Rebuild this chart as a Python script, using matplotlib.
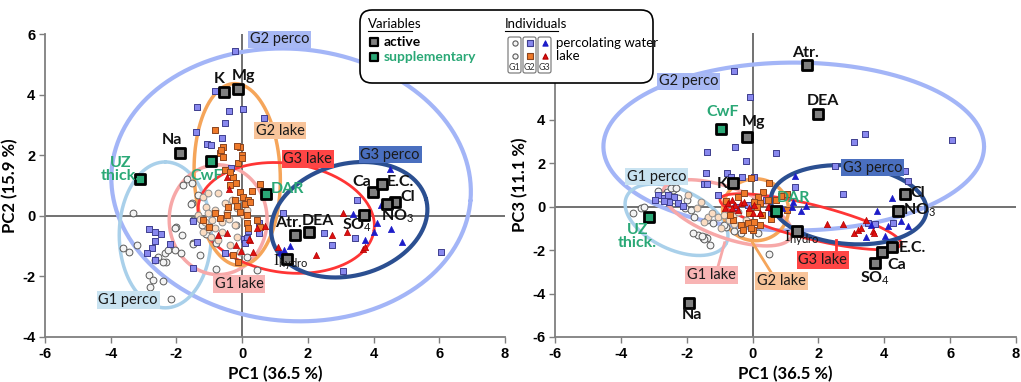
import numpy as np
import matplotlib
matplotlib.use('Agg')
import matplotlib.pyplot as plt
from matplotlib.patches import FancyBboxPatch

plt.rcParams['font.family'] = ['Lato', 'DejaVu Sans']
plt.rcParams['axes.unicode_minus'] = False
plt.rcParams['mathtext.fontset'] = 'custom'
plt.rcParams['mathtext.rm'] = 'Liberation Serif'
plt.rcParams['mathtext.sf'] = 'Lato'

# ---- variables (active / supplementary) ----
var_names = ['K', 'Mg', 'Na', 'Ca', 'E.C.', 'Cl', 'NO3', 'SO4', 'Atr.', 'DEA', 'Ihydro']
var_pc1 = [-0.55, -0.14, -1.90, 3.97, 4.25, 4.66, 4.42, 3.72, 1.61, 2.04, 1.36]
var_pc2 = [4.10, 4.20, 2.08, 0.78, 1.05, 0.44, 0.39, 0.01, -0.63, -0.53, -1.43]
var_pc1b = [-0.59, -0.18, -1.94, 3.92, 4.22, 4.64, 4.43, 3.72, 1.64, 2.00, 1.34]
var_pc3 = [1.09, 3.20, -4.42, -2.09, -1.85, 0.60, -0.19, -2.58, 6.52, 4.28, -1.11]

sup_names = ['UZ thick.', 'CwF', 'DAR']
sup_pc1 = [-3.12, -0.95, 0.73]
sup_pc2 = [1.21, 1.82, 0.72]
sup_pc1b = [-3.15, -0.97, 0.70]
sup_pc3 = [-0.48, 3.60, -0.22]

# ---- individuals, PC1 vs PC2 ----
g1p_pc1 = [-3.32, -3.62, -3.43, -3.19, -2.85, -2.72, -2.80, -2.42, -2.16, -2.55, -2.65, -2.34, -2.31,
           -2.40, -2.25, -2.04, -1.86, -2.00, -1.83, -1.52, -1.49, -1.22, -0.79, -0.79, 0.45, -0.18,
           -1.80, -1.67, -1.52, -1.55, -1.33, -2.04, -1.49, -1.49, 0.15, -1.28, -1.10]
g1p_pc2 = [0.10, -1.07, -1.20, -0.96, -1.95, -2.11, -2.35, -2.15, -2.74, -1.35, -1.45, -1.22, -1.52,
           -1.52, -1.12, -1.12, -1.22, -0.37, -0.63, 0.42, -0.90, -0.30, -1.75, -0.89, -1.79, -0.30,
           1.02, 1.22, 1.08, 0.40, 0.69, -0.40, -0.13, -0.93, -1.36, -1.29, -0.60]
g1l_pc1 = [-1.19, -1.03, -0.73, -0.52, -0.30, -0.15, 0.03, -1.10, -1.34, -1.03, -0.82, -0.46, -0.15,
           -1.28, -1.13, -0.91, -1.03, -0.82, -0.61, -0.21, 0.03, 0.15, -0.73, -0.36, -0.15, -0.06,
           -0.61, -0.40, -0.95, -1.20]
g1l_pc2 = [0.63, 0.76, 0.76, 0.43, 0.53, 0.43, 0.60, 0.30, 0.03, 0.10, 0.20, 0.13, 0.26,
           -0.10, -0.20, -0.13, -0.43, -0.40, -0.53, -0.30, 0.03, 0.20, -0.79, -0.96, -0.69, -1.19,
           -0.20, -0.10, -0.70, -0.55]
g2p_pc1 = [-0.21, -0.82, 0.04, -1.36, -0.39, -0.52, -1.40, -0.62, -1.07, -0.95, -0.33, 0.67, 3.50,
           1.25, 2.50, 2.74, 3.44, 3.07, 6.06, 0.52, 0.50, -2.83, -2.65, -2.46, -2.65, -2.74, -2.89,
           -2.65, -2.19, -1.37, -1.49, -0.52, 0.06, 0.18, -1.49, 0.15, 0.10]
g2p_pc2 = [5.45, 4.11, 3.53, 3.60, 3.45, 3.07, 2.78, 2.57, 2.38, 2.35, 1.58, 3.24, 0.53,
           0.10, -0.57, -0.96, -0.72, -1.82, -1.20, -0.57, -0.24, -0.43, -0.53, -0.60, -0.83, -1.06, -1.22,
           -1.45, -0.93, -0.86, -1.73, -1.22, -0.76, -0.50, -0.17, -0.73, -0.90]
g2l_pc1 = [-0.58, -0.67, -0.06, 0.00, -0.12, -0.52, -0.27, -0.18, -0.36, -0.06, 0.03, 0.18, -0.21,
           -0.43, -0.15, 0.09, 0.24, -0.06, -0.46, -0.67, -0.82, 0.15, 0.18, 0.15, 0.45, 0.55, -1.00,
           -1.19, -0.12, -0.27, -0.82, -0.15, 0.55, -0.36, -0.64, 0.30, -0.58, 0.00]
g2l_pc2 = [2.28, 2.07, 2.28, 2.02, 1.75, 1.52, 1.29, 1.09, 1.02, 0.79, 0.63, 0.53, 0.53,
           0.30, 0.33, 0.40, 0.46, 0.13, 0.03, -0.07, 0.10, -0.23, -0.40, 0.03, -0.13, -0.36, -0.36,
           -0.13, -1.52, -1.29, 2.84, 2.31, 1.06, 1.45, 2.18, 0.83, 1.95, 1.92]
g3p_pc1 = [4.50, 4.23, 3.38, 4.10, 4.00, 4.54, 4.87, 3.75, 1.46, 1.28, 1.15]
g3p_pc2 = [1.55, 0.36, 0.07, -0.25, -0.52, -0.43, -0.85, -0.80, -1.01, -1.12, -1.18]
g3l_pc1 = [3.08, 2.74, 3.20, 2.25, 1.10, 3.68, 3.74, -0.46, -0.39, -0.73, -0.46, -0.18, -0.03,
           0.24, 0.34, 0.45, 0.70, 0.21]
g3l_pc2 = [0.10, -0.63, -0.52, -1.31, -1.02, -1.10, -1.02, 1.29, 0.89, -0.63, -0.56, -0.96, -1.16,
           -0.79, -1.19, -0.40, -0.35, -0.76]

# ---- individuals, PC1 vs PC3 ----
g1p_pc1b = [-2.86, -2.61, -2.43, -2.70, -2.80, -2.55, -2.40, -2.25, -3.62, -3.40, -3.30, -2.49,
            -2.34, -2.58, -1.98, -2.04, -1.88, -1.79, -1.37, -1.19, -0.82, -1.67, -1.52, -1.43,
            -1.28, -1.82, -1.37, -1.46, -1.55, 0.49, 0.18, -0.88, -0.36, -0.55]
g1p_pc3 = [0.74, 0.69, 0.78, 0.55, 0.42, 0.46, 0.32, 0.42, -0.28, -0.05, 0.00, 0.88,
           0.85, 0.32, 0.32, -0.05, -0.14, -0.46, -0.60, -0.74, -0.92, -1.29, -1.43, -1.38,
           -1.75, -1.20, -1.43, -1.48, -1.35, -2.17, -1.20, -0.83, -1.20, -1.10]
g1l_pc1b = [-1.95, -1.58, -1.34, -1.04, -0.73, -0.97, -0.55, -0.30, -1.70, -1.22, -0.88, -0.60,
            -1.46, -0.20, -0.45]
g1l_pc3 = [0.55, 0.23, -0.46, -0.46, -0.60, -1.00, -0.78, -0.92, -0.05, -0.30, -0.37, -0.45,
           -0.69, -0.60, -0.25]
g2p_pc1b = [-0.55, -0.09, -1.37, -0.52, -0.21, -1.40, -0.79, -1.49, -1.37, -0.64, -0.33, -1.06,
            0.03, -2.88, -2.70, -2.58, -2.40, -2.55, -2.70, 0.70, 3.07, 3.40, 6.05, 2.49, 4.62,
            4.71, 1.28, 2.74, 3.50, 3.71, 4.26, -2.25, -2.10, -0.15, 0.40, -0.50, -2.95, 0.55]
g2p_pc3 = [6.23, 5.03, 2.54, 2.77, 2.12, 1.57, 1.57, 1.06, 1.06, 1.38, 1.38, 0.55,
           1.38, 0.55, 0.42, 0.55, 0.46, 0.23, 0.28, 2.49, 3.00, 3.37, 3.09, 1.89, 1.66,
           1.20, 0.92, 0.60, -0.74, -0.78, -0.74, 0.15, 0.05, 0.10, 0.30, 0.00, 0.30, -0.35]
g2l_pc1b = [-0.06, 0.49, 0.33, 0.15, 0.46, -0.43, -0.27, 0.03, 0.24, -0.58, -0.36, -0.15, 0.03,
            0.24, -0.30, 0.00, 1.06, -0.06, 1.06, 0.12, -0.12, 0.70, 0.85, -0.80, -0.70, 0.55, 0.30]
g2l_pc3 = [1.34, 1.10, 0.69, 0.46, 0.32, 0.46, 0.64, 0.23, 0.18, -0.60, -0.83, -0.74, -0.69,
           -0.83, -1.06, -1.06, -0.14, -0.97, 0.60, 0.00, -0.30, 0.30, 0.50, 0.25, -0.40, -0.55, -0.40]
g3p_pc1b = [1.28, 4.22, 3.77, 1.19, 1.46, 1.62, 4.50, 4.71, 4.10, 4.01, 3.59, 3.43, 1.22, 0.90]
g3p_pc3 = [1.43, 0.42, -0.18, 0.00, -0.18, 0.05, -0.65, -0.88, -0.88, -1.34, -0.83, -1.38, 0.20, -0.05]
g3l_pc1b = [2.25, 2.74, 3.07, 3.19, 3.28, 3.65, 3.68, 0.49, 0.24, -0.76, -0.61, -0.52, -0.36,
            -0.43, -0.12, 0.00, 0.24, 0.46, -0.27, -0.61, 0.03, -0.85, 3.45]
g3l_pc3 = [-0.78, -0.78, -1.20, -1.06, -0.97, -1.10, -1.20, 0.00, -0.28, 0.18, 0.32, 0.09, 0.18,
           -0.14, -0.05, -0.28, -0.28, 0.00, 0.23, -0.05, 0.09, -0.05, -0.60]

# ---- group ellipses: centre x, centre y, semi-axis a, semi-axis b (x units), angle ----
groups = ['G2 perco', 'G1 perco', 'G1 lake', 'G2 lake', 'G3 lake', 'G3 perco']
ell_pc2 = [(1.49, 1.02, 5.48, 4.14, -5), (-2.34, -0.63, 2.22, 1.40, 90), (-0.73, -0.13, 1.67, 1.49, 90),
           (-0.15, 1.36, 2.77, 1.31, 92), (1.34, -0.07, 2.70, 1.66, -8), (3.26, -0.13, 2.42, 1.70, 15)]
ell_pc3 = [(1.25, 2.77, 5.78, 2.55, 0), (-2.31, -0.60, 1.67, 0.91, -25), (-0.76, -0.28, 2.07, 0.76, -20),
           (0.09, -0.14, 1.00, 0.94, 0), (1.76, -0.69, 2.83, 0.52, -14), (2.92, 0.09, 2.37, 1.19, -5)]

# ---- styles / layout ----
ell_col = ['#a3b5f7', '#a9d0ea', '#f7a8a8', '#f5a55a', '#ff3535', '#2b4f91']
ell_lw = [3.0, 2.5, 2.5, 2.5, 2.0, 3.0]
box_col = ['#a7b8f4', '#c9e3f1', '#f8b4b4', '#f8c49a', '#ff4545', '#4a6fbf']
grp_lab_pc2 = [(1.13, 5.82), (-3.47, -2.78), (-0.09, -2.25), (1.16, 2.81), (2.0, 1.88), (4.5, 2.02)]
grp_lab_pc3 = [(-1.95, 5.77), (-2.92, 1.38), (-1.25, -3.14), (0.88, -3.41), (2.13, -2.45), (3.65, 1.80)]
leaders_pc3 = {'G1 lake': [(-1.06, -2.81), (-0.85, -1.66)],
               'G2 lake': [(0.61, -3.14), (0.0, -1.66)],
               'G3 lake': [(2.52, -2.12), (2.52, -1.52)]}

pretty = {'NO3': r'NO$_{\mathsf{3}}$', 'SO4': r'SO$_{\mathsf{4}}$',
          'Ihydro': r'$\mathrm{I}_{\mathsf{hydro}}$', 'UZ thick.': 'UZ\nthick.'}
var_lab_pc2 = [(-0.70, 4.50), (0.03, 4.63), (-2.13, 2.51), (3.65, 1.12), (4.81, 1.12), (5.05, 0.62),
               (4.72, 0.00), (3.50, -0.30), (1.40, -0.23), (2.30, -0.17), (1.49, -1.52)]
var_lab_pc3 = [(-0.91, 1.06), (0.03, 3.88), (-1.85, -4.98), (4.38, -2.68), (4.86, -1.89), (5.02, 0.65),
               (5.08, -0.14), (3.71, -3.28), (1.61, 7.10), (2.13, 4.89), (1.49, -1.43)]
sup_lab_pc2 = [(-3.71, 1.52), (-1.07, 1.32), (1.37, 0.89)]
sup_lab_pc3 = [(-3.50, -1.38), (-0.91, 4.34), (1.25, 0.42)]

green = '#2aa876'
ind_style = {
    'g1p': dict(marker='o', s=24, fc='#f4f4f4', ec='#5a5a5a', lw=0.7),
    'g1l': dict(marker='o', s=24, fc='#fbdcc2', ec='#8c8c8c', lw=0.7),
    'g2p': dict(marker='s', s=17, fc='#8888ee', ec='#3e3e8e', lw=0.7),
    'g2l': dict(marker='s', s=17, fc='#ef7a2a', ec='#8a4520', lw=0.7),
    'g3p': dict(marker='^', s=20, fc='#1c1cc8', ec='#1c1cc8', lw=0.5),
    'g3l': dict(marker='^', s=20, fc='#e01010', ec='#b00000', lw=0.5),
}

W, H = 1021, 382
fig = plt.figure(figsize=(W / 100, H / 100), dpi=100)
axL = fig.add_axes([45 / W, 45 / H, 460 / W, 303 / H])
axR = fig.add_axes([555 / W, 45 / H, 461 / W, 304 / H])


def draw_ellipse(ax, e, r, color, lw):
    cx, cy, a, b, ang = e
    t = np.linspace(0, 2 * np.pi, 300)
    th = np.deg2rad(ang)
    u, v = a * np.cos(t), b * np.sin(t)
    dx = u * np.cos(th) - v * np.sin(th)
    dy = u * np.sin(th) + v * np.cos(th)
    ax.plot(cx + dx, cy + dy * r, color=color, lw=lw, zorder=2, solid_capstyle='round')


def setup(ax, ylim, ylab, hide_top):
    ax.set_xlim(-6, 8)
    ax.set_ylim(*ylim)
    ax.set_xticks(range(-6, 9, 2))
    yt = list(range(ylim[0], ylim[1] + 1, 2))
    ax.set_yticks(yt, [('' if (hide_top and v == yt[-1]) else str(v)) for v in yt])
    for s in ['top', 'right']:
        ax.spines[s].set_visible(False)
    for s in ['left', 'bottom']:
        ax.spines[s].set_color('#7f7f7f')
        ax.spines[s].set_linewidth(1.3)
    ax.tick_params(direction='out', length=4, width=1, color='#7f7f7f', labelsize=10.5,
                   labelfontfamily='Liberation Sans', pad=3)
    for lbl in ax.get_xticklabels() + ax.get_yticklabels():
        lbl.set_fontweight('bold')
    ax.axhline(0, color='#595959', lw=1.2, zorder=1)
    ax.axvline(0, color='#595959', lw=1.2, zorder=1)
    ax.set_xlabel('PC1 (36.5 %)', fontsize=12, fontweight='bold', labelpad=4)
    ax.set_ylabel(ylab, fontsize=12, fontweight='bold', labelpad=3)


def panel(ax, ylim, ylab, ells, grp_lab, ind, vx, vy, vlab, sx, sy, slab, leaders=None, hide_top=False):
    setup(ax, ylim, ylab, hide_top)
    fig.canvas.draw()
    bb = ax.get_window_extent()
    r = (bb.width / 14) / (bb.height / (ylim[1] - ylim[0]))
    for e, c, lw in zip(ells, ell_col, ell_lw):
        draw_ellipse(ax, e, r, c, lw)
    if leaders:
        for g, pts in leaders.items():
            i = groups.index(g)
            ax.plot([pts[0][0], pts[1][0]], [pts[0][1], pts[1][1]], color=ell_col[i], lw=2, zorder=2)
    for key, (xs, ys) in ind.items():
        st = ind_style[key]
        ax.scatter(xs, ys, marker=st['marker'], s=st['s'], facecolor=st['fc'], edgecolor=st['ec'],
                   linewidths=st['lw'], zorder=3)
    for g, (lx, ly), bc in zip(groups, grp_lab, box_col):
        ax.text(lx, ly, g, fontsize=10.5, ha='center', va='center', color='#1a1a1a', zorder=4,
                bbox=dict(boxstyle='square,pad=0.12', fc=bc, ec='none'))
    ax.scatter(vx, vy, marker='s', s=42, facecolor='#808080', edgecolor='black', linewidths=2, zorder=5)
    ax.scatter(sx, sy, marker='s', s=42, facecolor=green, edgecolor='black', linewidths=2, zorder=5)
    for n, (lx, ly) in zip(var_names, vlab):
        ax.text(lx, ly, pretty.get(n, n), fontsize=11.5, ha='center', va='center', color='#111111',
                fontweight='bold', zorder=6)
    for n, (lx, ly) in zip(sup_names, slab):
        ax.text(lx, ly, pretty.get(n, n), fontsize=11.5, ha='center', va='center', color=green,
                fontweight='bold', linespacing=0.95, zorder=6)


panel(axL, (-4, 6), 'PC2 (15.9 %)', ell_pc2, grp_lab_pc2,
      {'g1p': (g1p_pc1, g1p_pc2), 'g1l': (g1l_pc1, g1l_pc2), 'g2p': (g2p_pc1, g2p_pc2),
       'g2l': (g2l_pc1, g2l_pc2), 'g3p': (g3p_pc1, g3p_pc2), 'g3l': (g3l_pc1, g3l_pc2)},
      var_pc1, var_pc2, var_lab_pc2, sup_pc1, sup_pc2, sup_lab_pc2)
panel(axR, (-6, 8), 'PC3 (11.1 %)', ell_pc3, grp_lab_pc3,
      {'g1p': (g1p_pc1b, g1p_pc3), 'g1l': (g1l_pc1b, g1l_pc3), 'g2p': (g2p_pc1b, g2p_pc3),
       'g2l': (g2l_pc1b, g2l_pc3), 'g3p': (g3p_pc1b, g3p_pc3), 'g3l': (g3l_pc1b, g3l_pc3)},
      var_pc1b, var_pc3, var_lab_pc3, sup_pc1b, sup_pc3, sup_lab_pc3, leaders_pc3, hide_top=True)

# ---- legend box drawn in pixel coordinates ----
lg = fig.add_axes([0, 0, 1, 1], zorder=10)
lg.set_xlim(0, W)
lg.set_ylim(H, 0)
lg.axis('off')
lg.patch.set_alpha(0)
lg.add_patch(FancyBboxPatch((360, 10), 293, 73, boxstyle='round,pad=0,rounding_size=12',
                            fc='white', ec='black', lw=1.2))
lg.text(368, 24, 'Variables', fontsize=9.5, va='center', ha='left')
lg.plot([368, 412], [31, 31], color='black', lw=0.8)
lg.scatter([374], [42], marker='s', s=28, facecolor='#808080', edgecolor='black', linewidths=1.6)
lg.scatter([374], [57], marker='s', s=28, facecolor=green, edgecolor='black', linewidths=1.6)
lg.text(384, 42, 'active', fontsize=10, fontweight='bold', va='center', ha='left')
lg.text(384, 57, 'supplementary', fontsize=10, fontweight='bold', va='center', ha='left', color=green)
lg.text(505, 24, 'Individuals', fontsize=9.5, va='center', ha='left')
lg.plot([505, 558], [31, 31], color='black', lw=0.8)
for i, (gx, gname) in enumerate(zip([508, 523, 538], ['G1', 'G2', 'G3'])):
    lg.add_patch(FancyBboxPatch((gx, 37), 13, 36, boxstyle='round,pad=0,rounding_size=2',
                                fc='none', ec='#707070', lw=0.8))
    lg.text(gx + 6.5, 68, gname, fontsize=6.5, ha='center', va='center', color='#333333')
for key, (mx, my) in {'g1p': (514.5, 43), 'g1l': (514.5, 56), 'g2p': (529.5, 43),
                      'g2l': (529.5, 56), 'g3p': (544.5, 43), 'g3l': (544.5, 56)}.items():
    st = ind_style[key]
    lg.scatter([mx], [my], marker=st['marker'], s=14, facecolor=st['fc'] if key != 'g1l' else '#f4f4f4',
               edgecolor=st['ec'] if key != 'g1l' else '#5a5a5a', linewidths=0.8)
lg.text(556, 43, 'percolating water', fontsize=9.5, va='center', ha='left')
lg.text(556, 56, 'lake', fontsize=9.5, va='center', ha='left')

fig.savefig('out.png', dpi=100)
